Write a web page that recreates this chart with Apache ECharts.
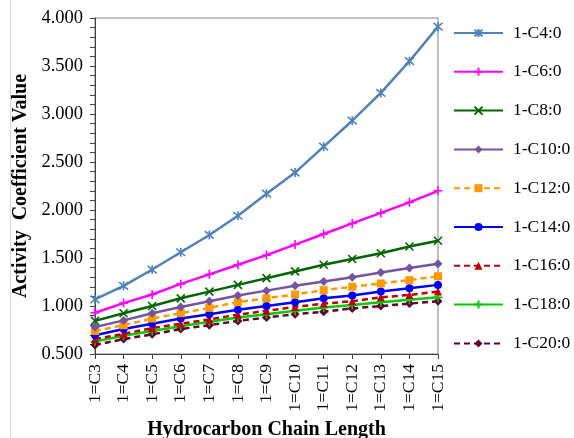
<!DOCTYPE html>
<html>
<head>
<meta charset="utf-8">
<script src="https://cdn.jsdelivr.net/npm/echarts@6/dist/echarts.min.js"></script>
<style>
html,body{margin:0;padding:0;background:#fff;}
#chart{width:574px;height:438px;}
</style>
</head>
<body>
<div id="chart"></div>
<script>
var categories = ['1=C3','1=C4','1=C5','1=C6','1=C7','1=C8','1=C9','1=C10','1=C11','1=C12','1=C13','1=C14','1=C15'];
var yTicks = {min: 0.5, max: 4.0, interval: 0.5};

var c4  = [1.07, 1.21, 1.38, 1.56, 1.74, 1.94, 2.17, 2.39, 2.66, 2.93, 3.22, 3.55, 3.91];
var c6  = [0.93, 1.03, 1.12, 1.23, 1.33, 1.43, 1.53, 1.64, 1.75, 1.86, 1.97, 2.08, 2.20];
var c8  = [0.845, 0.925, 1.00, 1.08, 1.15, 1.22, 1.29, 1.36, 1.43, 1.49, 1.55, 1.62, 1.68];
var c10 = [0.78, 0.85, 0.925, 0.99, 1.05, 1.11, 1.16, 1.21, 1.255, 1.30, 1.35, 1.395, 1.44];
var c12 = [0.74, 0.80, 0.87, 0.925, 0.98, 1.04, 1.08, 1.12, 1.165, 1.20, 1.235, 1.27, 1.31];
var c14 = [0.695, 0.76, 0.815, 0.87, 0.915, 0.96, 1.00, 1.04, 1.08, 1.11, 1.15, 1.185, 1.22];
var c16 = [0.655, 0.71, 0.77, 0.815, 0.86, 0.91, 0.95, 0.99, 1.025, 1.05, 1.09, 1.115, 1.15];
var c18 = [0.63, 0.69, 0.74, 0.79, 0.835, 0.88, 0.915, 0.95, 0.985, 1.01, 1.04, 1.065, 1.09];
var c20 = [0.595, 0.655, 0.705, 0.76, 0.80, 0.845, 0.88, 0.915, 0.94, 0.975, 1.00, 1.025, 1.05];

var seriesNames = ['1-C4:0','1-C6:0','1-C8:0','1-C10:0','1-C12:0','1-C14:0','1-C16:0','1-C18:0','1-C20:0'];
var seriesData = [c4, c6, c8, c10, c12, c14, c16, c18, c20];

var ASTER = 'path://M0,0 L10,10 M10,0 L0,10 M5,-1 L5,11';
var PLUS = 'path://M5,0 L5,10 M0,5 L10,5';
var CROSS = 'path://M0,0 L10,10 M10,0 L0,10';

var styles = [
  {color:'#4F81BD', symbol:ASTER, size:9, dash:'solid', stroke:true},
  {color:'#FF00FF', symbol:PLUS, size:9, dash:'solid', stroke:true},
  {color:'#006600', symbol:CROSS, size:8, dash:'solid', stroke:true},
  {color:'#7553A0', symbol:'diamond', size:9, dash:'solid'},
  {color:'#FF9900', symbol:'rect', size:8, dash:[6,4]},
  {color:'#0000FF', symbol:'circle', size:8, dash:'solid'},
  {color:'#C00000', symbol:'triangle', size:8, dash:[6,4]},
  {color:'#00CC00', symbol:PLUS, size:9, dash:'solid', stroke:true},
  {color:'#660033', symbol:'diamond', size:9, dash:[6,4]}
];

var series = seriesNames.map(function(n, i){
  var s = styles[i];
  return {
    name: n,
    type: 'line',
    data: seriesData[i],
    symbol: s.symbol,
    symbolSize: s.size,
    showAllSymbol: true,
    lineStyle: {color: s.color, width: 2.5, type: s.dash},
    itemStyle: s.stroke ? {color: s.color, borderColor: s.color, borderWidth: 1.6} : {color: s.color, borderWidth: 0},
    emphasis: {disabled: true},
    animation: false,
    z: 10 - i
  };
});

var font = 'Liberation Serif';
var chart = echarts.init(document.getElementById('chart'), null, {renderer: 'canvas'});
chart.setOption({
  backgroundColor: '#fff',
  animation: false,
  textStyle: {fontFamily: font},
  grid: {left: 95, right: 136, top: 18, bottom: 84, show: true, borderColor: '#808080', borderWidth: 1, backgroundColor: 'transparent', containLabel: false, outerBoundsMode: 'none'},
  legend: {
    orient: 'vertical',
    left: 448,
    top: 19,
    itemWidth: 49,
    itemHeight: 10,
    itemGap: 20.8,
    data: seriesNames,
    textStyle: {fontFamily: font, fontSize: 17.5, color: '#000', padding: [0,0,0,5]},
    selectedMode: false
  },
  xAxis: {
    type: 'category',
    data: categories,
    boundaryGap: false,
    axisLine: {lineStyle: {color: '#404040', width: 1}},
    axisTick: {show: true, inside: false, length: 5, alignWithLabel: true, lineStyle: {color: '#404040'}},
    axisLabel: {rotate: 90, interval: 0, fontFamily: font, fontSize: 17.5, color: '#000', margin: 10},
    splitLine: {show: false},
    name: 'Hydrocarbon Chain Length',
    nameLocation: 'middle',
    nameGap: 64,
    nameTextStyle: {fontFamily: font, fontSize: 20, fontWeight: 'bold', color: '#000'}
  },
  yAxis: {
    type: 'value',
    min: yTicks.min,
    max: yTicks.max,
    interval: yTicks.interval,
    axisLine: {show: true, lineStyle: {color: '#404040', width: 1}},
    axisTick: {show: true, inside: false, length: 5, lineStyle: {color: '#404040'}},
    minorTick: {show: true, splitNumber: 5, length: 5, lineStyle: {color: '#404040'}},
    axisLabel: {fontFamily: font, fontSize: 18.5, color: '#000', margin: 12, formatter: function(v){ return v.toFixed(3); }},
    splitLine: {show: false},
    name: 'Activity  Coefficient Value',
    nameLocation: 'middle',
    nameGap: 57,
    nameTextStyle: {fontFamily: font, fontSize: 20, fontWeight: 'bold', color: '#000'}
  },
  graphic: [
    {type: 'line', shape: {x1: 10.5, y1: 0, x2: 10.5, y2: 438}, style: {stroke: '#d9d9d9', lineWidth: 1}, silent: true}
  ],
  series: series
});
</script>
</body>
</html>
